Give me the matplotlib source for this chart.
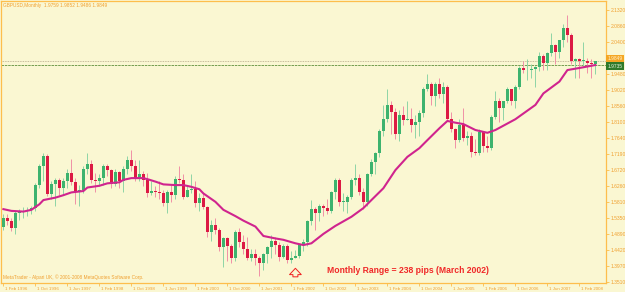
import matplotlib
matplotlib.use('Agg')
import matplotlib.pyplot as plt
import matplotlib.transforms as mtransforms
import numpy as np

# GBPUSD monthly candles, Feb 1996 .. Jun 2008
opens = [
    1.508, 1.535, 1.527, 1.507, 1.550, 1.552, 1.556, 1.558, 1.563, 1.628, 1.684,
    1.712, 1.603, 1.632, 1.645, 1.622, 1.640, 1.665, 1.637, 1.612, 1.614, 1.676, 1.690,
    1.645, 1.640, 1.648, 1.683, 1.672, 1.633, 1.667, 1.640, 1.675, 1.700, 1.685, 1.648,
    1.662, 1.645, 1.605, 1.611, 1.610, 1.605, 1.577, 1.610, 1.600, 1.647, 1.645, 1.595,
    1.615, 1.617, 1.577, 1.591, 1.565, 1.495, 1.515, 1.500, 1.450, 1.478, 1.455, 1.420,
    1.495, 1.466, 1.447, 1.420, 1.430, 1.420, 1.405, 1.430, 1.450, 1.470, 1.456, 1.424,
    1.455, 1.415, 1.420, 1.425, 1.457, 1.465, 1.525, 1.560, 1.550, 1.568, 1.564, 1.555,
    1.610, 1.645, 1.580, 1.580, 1.595, 1.645, 1.650, 1.610, 1.580, 1.660, 1.695, 1.720,
    1.785, 1.820, 1.860, 1.840, 1.775, 1.830, 1.815, 1.820, 1.800, 1.810, 1.835, 1.905,
    1.920, 1.885, 1.920, 1.890, 1.910, 1.820, 1.790, 1.757, 1.800, 1.765, 1.770, 1.725,
    1.720, 1.780, 1.740, 1.735, 1.825, 1.870, 1.850, 1.870, 1.905, 1.870, 1.910, 1.965,
    1.958, 1.960, 1.962, 1.968, 2.000, 1.980, 2.007, 2.030, 2.010, 2.045, 2.080, 2.060,
    1.985, 1.990, 1.985, 1.985, 1.980, 1.9759,
]
highs = [
    1.545, 1.545, 1.535, 1.555, 1.560, 1.565, 1.565, 1.570, 1.635, 1.690, 1.720,
    1.718, 1.640, 1.650, 1.650, 1.650, 1.675, 1.705, 1.650, 1.630, 1.685, 1.720, 1.700,
    1.665, 1.660, 1.690, 1.690, 1.675, 1.675, 1.670, 1.685, 1.712, 1.730, 1.700, 1.700,
    1.670, 1.665, 1.640, 1.625, 1.640, 1.615, 1.615, 1.630, 1.655, 1.685, 1.660, 1.630,
    1.660, 1.640, 1.605, 1.605, 1.570, 1.530, 1.535, 1.505, 1.480, 1.480, 1.460, 1.500,
    1.505, 1.485, 1.480, 1.445, 1.445, 1.425, 1.435, 1.455, 1.485, 1.480, 1.465, 1.460,
    1.460, 1.440, 1.4430, 1.460, 1.475, 1.530, 1.585, 1.565, 1.575, 1.575, 1.590, 1.612,
    1.650, 1.650, 1.605, 1.600, 1.650, 1.690, 1.660, 1.620, 1.665, 1.705, 1.725, 1.790,
    1.860, 1.905, 1.870, 1.850, 1.845, 1.855, 1.870, 1.850, 1.830, 1.845, 1.910, 1.948,
    1.925, 1.925, 1.935, 1.925, 1.915, 1.840, 1.792, 1.820, 1.850, 1.785, 1.780, 1.760,
    1.790, 1.785, 1.770, 1.830, 1.900, 1.880, 1.870, 1.910, 1.905, 1.915, 1.970, 1.985,
    1.990, 1.975, 1.972, 2.010, 2.005, 2.010, 2.065, 2.035, 2.045, 2.090, 2.116, 2.065,
    1.995, 1.995, 2.040, 1.995, 1.990, 1.9852,
]
lows = [
    1.500, 1.515, 1.498, 1.490, 1.530, 1.535, 1.540, 1.545, 1.555, 1.620, 1.640,
    1.598, 1.590, 1.570, 1.600, 1.600, 1.620, 1.630, 1.575, 1.570, 1.605, 1.660, 1.635,
    1.610, 1.625, 1.630, 1.655, 1.620, 1.625, 1.620, 1.610, 1.660, 1.670, 1.640, 1.640,
    1.625, 1.595, 1.600, 1.595, 1.590, 1.570, 1.550, 1.580, 1.590, 1.635, 1.590, 1.595,
    1.605, 1.565, 1.555, 1.560, 1.480, 1.470, 1.490, 1.440, 1.395, 1.410, 1.405, 1.410,
    1.450, 1.430, 1.415, 1.410, 1.400, 1.368, 1.385, 1.405, 1.420, 1.430, 1.410, 1.420,
    1.405, 1.405, 1.4192, 1.420, 1.440, 1.455, 1.515, 1.500, 1.525, 1.540, 1.545, 1.550,
    1.590, 1.570, 1.555, 1.550, 1.590, 1.630, 1.600, 1.560, 1.570, 1.655, 1.660, 1.710,
    1.770, 1.810, 1.775, 1.760, 1.755, 1.800, 1.815, 1.780, 1.765, 1.770, 1.825, 1.900,
    1.860, 1.855, 1.880, 1.865, 1.815, 1.780, 1.735, 1.752, 1.755, 1.745, 1.710, 1.715,
    1.715, 1.725, 1.725, 1.730, 1.820, 1.810, 1.815, 1.865, 1.860, 1.850, 1.905, 1.950,
    1.930, 1.935, 1.910, 1.955, 1.960, 1.960, 2.000, 1.975, 1.995, 2.025, 2.040, 1.975,
    1.935, 1.935, 1.970, 1.950, 1.935, 1.9486,
]
closes = [
    1.535, 1.527, 1.507, 1.550, 1.552, 1.556, 1.558, 1.563, 1.628, 1.684, 1.712,
    1.603, 1.632, 1.645, 1.622, 1.640, 1.665, 1.637, 1.612, 1.614, 1.676, 1.690, 1.645,
    1.640, 1.648, 1.683, 1.672, 1.633, 1.667, 1.640, 1.675, 1.700, 1.685, 1.648, 1.662,
    1.645, 1.605, 1.611, 1.610, 1.605, 1.577, 1.610, 1.600, 1.647, 1.645, 1.595, 1.615,
    1.617, 1.577, 1.591, 1.565, 1.495, 1.515, 1.500, 1.450, 1.478, 1.455, 1.420, 1.495,
    1.466, 1.447, 1.420, 1.430, 1.420, 1.405, 1.430, 1.450, 1.470, 1.456, 1.424, 1.455,
    1.415, 1.420, 1.425, 1.457, 1.465, 1.525, 1.560, 1.550, 1.568, 1.564, 1.555, 1.610,
    1.645, 1.580, 1.580, 1.595, 1.645, 1.650, 1.610, 1.580, 1.660, 1.695, 1.720, 1.785,
    1.820, 1.860, 1.840, 1.775, 1.830, 1.815, 1.820, 1.800, 1.810, 1.835, 1.905, 1.920,
    1.885, 1.920, 1.890, 1.910, 1.820, 1.790, 1.757, 1.800, 1.765, 1.770, 1.725, 1.720,
    1.780, 1.740, 1.735, 1.825, 1.870, 1.850, 1.870, 1.905, 1.870, 1.910, 1.965, 1.958,
    1.960, 1.962, 1.968, 2.000, 1.980, 2.007, 2.030, 2.010, 2.045, 2.080, 2.060, 1.985,
    1.990, 1.985, 1.985, 1.980, 1.976, 1.9849,
]

# moving average line, read at bar positions
ma_idx = [0, 2, 5, 7, 9, 10, 13, 15, 17, 20, 21, 24, 26, 29, 30, 32, 35, 36, 38, 40,
          43, 45, 47, 49, 50, 53, 55, 58, 60, 63, 65, 68, 70, 73, 75, 77, 80, 83, 87, 90,
          92, 95, 98, 101, 104, 106, 109, 111, 113, 115, 118, 121, 123, 128, 133, 135,
          139, 141, 145, 148]
ma_val = [1.560, 1.555, 1.553, 1.558, 1.574, 1.586, 1.593, 1.600, 1.608, 1.612, 1.622,
          1.627, 1.634, 1.637, 1.644, 1.649, 1.649, 1.646, 1.639, 1.631, 1.629, 1.629,
          1.624, 1.617, 1.605, 1.581, 1.558, 1.540, 1.527, 1.510, 1.483, 1.476, 1.472,
          1.462, 1.457, 1.462, 1.489, 1.512, 1.538, 1.563, 1.586, 1.620, 1.672, 1.710,
          1.735, 1.758, 1.792, 1.813, 1.808, 1.804, 1.787, 1.779, 1.787, 1.818, 1.859,
          1.892, 1.926, 1.959, 1.967, 1.9735]

bid_price = 1.9849
line_price = 1.9735
range_bar = 73  # March 2002

ytick_vals = [2.1320, 2.0860, 2.0400, 1.9480, 1.9020, 1.8560, 1.8100, 1.7640, 1.7190,
              1.6720, 1.6260, 1.5810, 1.5350, 1.4890, 1.4420, 1.3970, 1.3510]
ytick_labels = ['2.1320', '2.0860', '2.0400', '1.9480', '1.9020', '1.8560', '1.8100',
                '1.7640', '1.7190', '1.6720', '1.6260', '1.5810', '1.5350', '1.4890',
                '1.4420', '1.3970', '1.3510']
xtick_pos = list(range(0, 145, 8))
xtick_labels = ['1 Feb 1996', '1 Oct 1996', '1 Jun 1997', '1 Feb 1998', '1 Oct 1998',
                '1 Jun 1999', '1 Feb 2000', '1 Oct 2000', '1 Jun 2001', '1 Feb 2002',
                '1 Oct 2002', '1 Jun 2003', '1 Feb 2004', '1 Oct 2004', '1 Jun 2005',
                '1 Feb 2006', '1 Oct 2006', '1 Jun 2007', '1 Feb 2008']

plt.rcParams['font.family'] = ['Liberation Sans', 'DejaVu Sans']

bg = '#FAF7D2'
frame = '#FDBE4C'
txt = '#F0A030'
green = '#3DB36E'
red = '#DC1A44'

fig = plt.figure(figsize=(6.25, 2.92), dpi=100, facecolor=bg)
ax = fig.add_axes([1/625, 9/292, 605/625, 282/292], facecolor=bg)

o = np.array(opens)
h = np.array(highs)
l = np.array(lows)
c = np.array(closes)
x = np.arange(len(c))
up = c >= o

body_col = np.where(up, green, red)
wick_col = np.where(up, '#8ED4A6', '#F090A6')
ax.vlines(x, l, h, colors=wick_col, lw=0.7, zorder=2)
ax.bar(x, np.maximum(np.abs(c - o), 0.002), bottom=np.minimum(o, c), width=0.7,
       color=body_col, lw=0, zorder=3)

ax.plot(ma_idx, ma_val, color='#D0248E', lw=1.5, zorder=4, solid_joinstyle='round')

ax.axhline(bid_price, color='#B5A88A', lw=0.6, ls=(0, (1, 1)), zorder=1)
ax.axhline(line_price, color='#5E8E3A', lw=0.6, ls=(0, (3, 1)), zorder=1)

trans = mtransforms.blended_transform_factory(ax.transAxes, ax.transData)
ax.text(1.002, bid_price + 0.006, '1.9849', transform=trans, fontsize=3.5, color='#FFF3D0',
        va='center', ha='left', clip_on=False, zorder=10,
        bbox=dict(boxstyle='square,pad=0.3', fc='#F5A623', ec='none'))
ax.text(1.002, line_price - 0.004, '1.9735', transform=trans, fontsize=3.5, color='#E8F5E0',
        va='center', ha='left', clip_on=False, zorder=10,
        bbox=dict(boxstyle='square,pad=0.3', fc='#2F7A2A', ec='none'))

ax.set_xlim(-0.6, -0.6 + 605 / 4)
ax.set_ylim(1.3481, 2.1571)

ax.yaxis.tick_right()
ax.set_yticks(ytick_vals)
ax.set_yticklabels(ytick_labels)
ax.set_xticks(xtick_pos)
ax.set_xticklabels(xtick_labels)
ax.tick_params(axis='both', colors=frame, labelcolor=txt, length=2.5, width=0.6, pad=1)
ax.tick_params(axis='y', labelsize=3.6)
ax.tick_params(axis='x', labelsize=3.2, pad=0.5)
for lab in ax.get_xticklabels():
    lab.set_horizontalalignment('left')
    lab.set_transform(lab.get_transform() + mtransforms.ScaledTranslation(1.5 / 100, 0, fig.dpi_scale_trans))

for s in ax.spines.values():
    s.set_color(frame)
    s.set_linewidth(0.9)

ax.text(0.004, 0.985, 'GBPUSD,Monthly  1.9759 1.9852 1.9486 1.9849', transform=ax.transAxes,
        fontsize=3.4, color=txt, va='center', ha='left')
ax.text(0.004, 0.022, 'MetaTrader - Alpari UK, \u00a9 2001-2008 MetaQuotes Software Corp.',
        transform=ax.transAxes, fontsize=3.4, color=txt, va='center', ha='left')
ax.text(0.539, 0.046, 'Monthly Range = 238 pips (March 2002)', transform=ax.transAxes,
        fontsize=6.2, fontweight='bold', color='#F02828', va='center', ha='left')

ax.annotate('', xy=(range_bar, 0.062), xycoords=('data', 'axes fraction'),
            xytext=(range_bar, 0.012), textcoords=('data', 'axes fraction'),
            arrowprops=dict(arrowstyle='simple,head_length=0.7,head_width=1.3,tail_width=0.55',
                            fc=bg, ec='#F02020', lw=0.7, mutation_scale=6.5),
            zorder=6)

fig.savefig('out.png', dpi=100, facecolor=bg)
